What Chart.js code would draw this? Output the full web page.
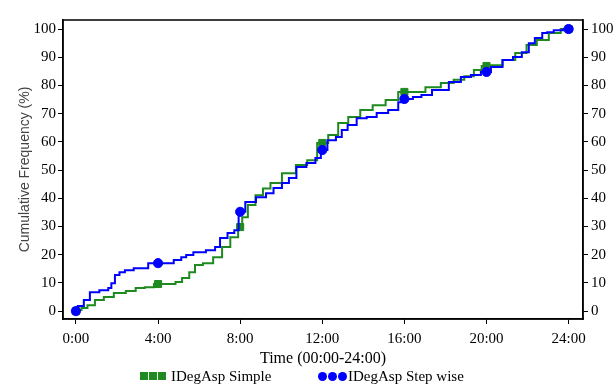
<!DOCTYPE html>
<html><head><meta charset="utf-8">
<script src="https://cdn.jsdelivr.net/npm/chart.js@4/dist/chart.umd.min.js"></script>
<style>
html,body{margin:0;padding:0;background:#fff;}
#wrap{position:relative;width:614px;height:387px;overflow:hidden;}
canvas{position:absolute;left:0;top:0;}
.lg{position:absolute;font:15px "Liberation Serif",serif;color:#000;line-height:18px;white-space:nowrap;}
.sq{position:absolute;width:8px;height:8px;background:#1f8a1f;}
.dot{position:absolute;width:9px;height:9px;border-radius:50%;background:#0000ff;}
</style></head><body>
<div id="wrap">
<canvas id="c" width="614" height="387"></canvas>
<span class="sq" style="left:140px;top:372px"></span>
<span class="sq" style="left:149px;top:372px"></span>
<span class="sq" style="left:158px;top:372px"></span>
<span class="lg" style="left:171px;top:367px">IDegAsp Simple</span>
<span class="dot" style="left:318px;top:372px"></span>
<span class="dot" style="left:328px;top:372px"></span>
<span class="dot" style="left:338px;top:372px"></span>
<span class="lg" style="left:348px;top:367px">IDegAsp Step wise</span>
</div>
<script>
// Data
const simpleHours = [0,0.1,0.44,0.68,1.17,1.55,2.14,2.72,3.1,3.6,4.0,4.8,4.9,5.44,5.6,6.0,6.37,7.0,7.24,7.8,8.0,8.2,8.55,8.94,9.28,9.67,10.4,11.03,11.5,12.0,12.58,12.97,13.56,14.14,14.77,15.4,16.0,16.7,17.35,18.2,18.6,19.24,19.53,20.0,20.46,21.1,21.7,22.2,22.7,23.37,23.86,24];
const simpleValues = [0,0.4,1.1,2.1,3.9,5.0,6.4,7.1,8.2,8.5,9.6,9.6,10.3,11.7,13.8,16.3,17.0,19.1,22.7,26.2,29.8,33.3,37.6,41.1,43.5,45.4,48.9,51.8,53.5,59.6,62.4,66.7,68.8,71.3,73.0,74.8,77.7,77.7,79.4,80.9,82.0,83.3,85.5,86.9,87.2,89.0,91.5,94.3,96.1,98.6,100,100];
const stepHours = [0,0.19,0.58,0.78,1.5,1.65,1.8,2.0,2.24,2.53,3.1,3.94,4.57,4.96,5.3,5.44,6.0,6.66,6.9,7.14,7.63,7.8,8.05,8.45,9.09,9.43,9.82,10.25,10.5,10.98,11.47,11.86,12.0,12.5,12.83,13.07,13.4,13.95,14.38,14.92,15.5,15.9,16.03,16.8,16.86,17.83,18.5,19.0,19.48,19.97,20.46,21.1,21.48,21.96,22.16,22.55,22.88,23.03,23.52,24.0];
const stepValues = [0,1.8,3.9,6.7,7.4,8.2,9.9,12.8,13.8,14.5,15.2,17.0,17.0,18.1,19.1,19.9,20.9,21.6,22.7,25.9,27.7,28.7,35.2,38.7,40.4,41.8,43.6,45.4,47.2,51.1,52.5,54.3,57.1,60.6,61.7,64.2,66.0,68.4,68.8,70.2,71.3,74.0,75.2,75.9,76.6,78.4,81.2,83.0,83.7,84.8,86.5,89.0,90.1,91.8,95.0,96.8,98.6,98.9,99.6,100];
const markerHours = [0,4,8,12,16,20,24];
const simpleMarkers = [0,9.6,29.8,59.6,77.7,86.9,100];
const stepMarkers = [0,17.0,35.2,57.1,75.2,84.8,100];
const xTickHours = [0,4,8,12,16,20,24];
const xTickLabels = ["0:00","4:00","8:00","12:00","16:00","20:00","24:00"];
const yTickValues = [0,10,20,30,40,50,60,70,80,90,100];

const GREEN = '#1f8a1f';
const BLUE = '#0000ff';
const pts = (xs, ys) => xs.map((x, i) => ({x, y: ys[i]}));

const framePlugin = {
  id: 'frame',
  afterDraw(chart) {
    const {ctx, chartArea: a} = chart;
    ctx.save();
    ctx.strokeStyle = '#000';
    ctx.lineWidth = 1.5;
    ctx.strokeRect(a.left, a.top, a.right - a.left, a.bottom - a.top);
    ctx.restore();
  }
};

const serif = {family: '"Liberation Serif", "Times New Roman", serif', size: 15};
const yScale = (pos, width, pad) => ({
  type: 'linear', position: pos, min: -2.8, max: 103.2,
  afterBuildTicks: s => { s.ticks = yTickValues.map(v => ({value: v})); },
  afterFit: s => { s.width = width; },
  grid: {drawOnChartArea: false, drawTicks: true, tickLength: 5, color: '#000', lineWidth: 1},
  border: {display: true, color: '#000', width: 1.5},
  ticks: {color: '#000', font: serif, padding: pad, callback: v => String(v)},
});

const y1 = yScale('left', 63, 2);
y1.title = {display: true, text: 'Cumulative Frequency (%)', color: '#444',
  font: {family: '"Liberation Sans", Arial, sans-serif', size: 14}, padding: {top: 17, bottom: 0}};
const y2 = yScale('right', 31, 3);

new Chart(document.getElementById('c'), {
  type: 'line',
  data: {
    datasets: [
      {label: 'IDegAsp Step wise markers', data: pts(markerHours, stepMarkers), showLine: false,
        pointStyle: 'circle', pointRadius: 4.6, pointBackgroundColor: BLUE, pointBorderColor: BLUE, order: 0, yAxisID: 'y'},
      {label: 'IDegAsp Step wise', data: pts(stepHours, stepValues), borderColor: BLUE, borderWidth: 2,
        stepped: 'middle', pointRadius: 0, fill: false, order: 1, yAxisID: 'y'},
      {label: 'IDegAsp Simple markers', data: pts(markerHours, simpleMarkers), showLine: false,
        pointStyle: 'rect', pointRadius: 5, pointBackgroundColor: GREEN, pointBorderColor: GREEN, order: 2, yAxisID: 'y'},
      {label: 'IDegAsp Simple', data: pts(simpleHours, simpleValues), borderColor: GREEN, borderWidth: 2,
        stepped: 'middle', pointRadius: 0, fill: false, order: 3, yAxisID: 'y'},
    ]
  },
  options: {
    responsive: false, animation: false,
    layout: {padding: {top: 20, left: 0, right: 0, bottom: 0}},
    plugins: {legend: {display: false}, tooltip: {enabled: false}},
    scales: {
      x: {
        type: 'linear', position: 'bottom', min: -0.63, max: 24.7,
        afterBuildTicks: s => { s.ticks = xTickHours.map(v => ({value: v})); },
        afterFit: s => { s.height = 68; },
        grid: {drawOnChartArea: false, drawTicks: true, tickLength: 5, color: '#000'},
        border: {display: true, color: '#000', width: 1.5},
        ticks: {color: '#000', font: serif, padding: 6, autoSkip: false, maxRotation: 0,
          callback: v => xTickLabels[xTickHours.indexOf(v)]},
        title: {display: true, text: 'Time (00:00-24:00)', color: '#000',
          font: {family: '"Liberation Serif", serif', size: 16}, padding: {top: 0, bottom: 19}}
      },
      y: y1,
      y2: y2
    }
  },
  plugins: [framePlugin]
});
</script>
</body></html>
